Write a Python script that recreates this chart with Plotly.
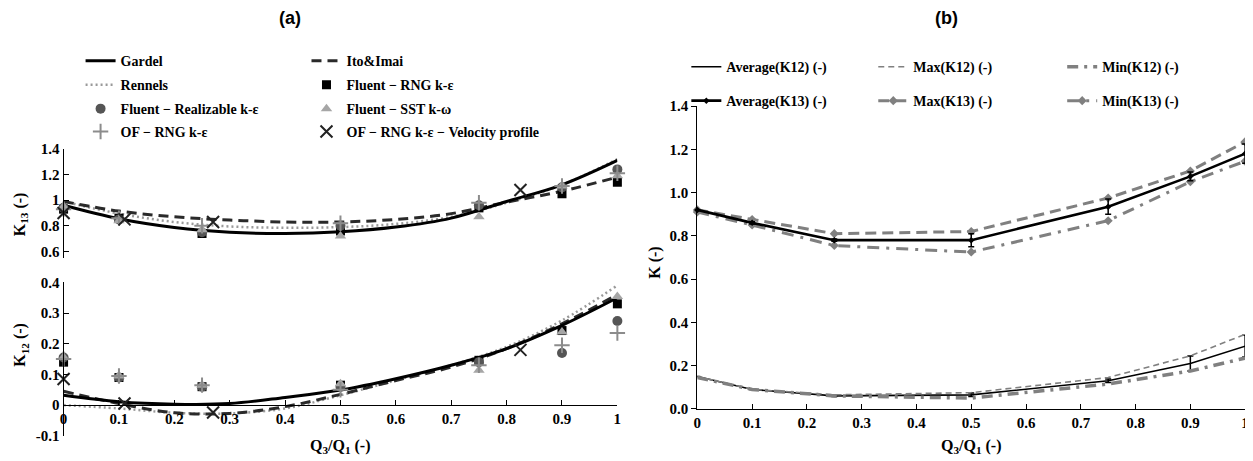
import plotly.graph_objects as go

W, H = 1253, 461

# ---------------- data: panel (a) ----------------
x_curve = [0, 0.1, 0.2, 0.3, 0.4, 0.5, 0.6, 0.7, 0.8, 0.9, 1.0]
gardel_k13 = [0.96, 0.855, 0.787, 0.75, 0.74, 0.753, 0.79, 0.86, 0.99, 1.12, 1.31]
ito_k13 = [0.99, 0.915, 0.87, 0.845, 0.83, 0.83, 0.85, 0.895, 0.985, 1.07, 1.18]
rennels_k13 = [0.99, 0.895, 0.83, 0.795, 0.785, 0.79, 0.815, 0.87, 0.98, 1.12, 1.32]
gardel_k12 = [0.032, 0.011, 0.003, 0.005, 0.025, 0.049, 0.086, 0.13, 0.184, 0.26, 0.35]
ito_k12 = [0.045, 0.005, -0.025, -0.027, -0.005, 0.035, 0.08, 0.124, 0.184, 0.265, 0.36]
rennels_k12 = [0.0, -0.011, -0.025, -0.027, -0.011, 0.032, 0.081, 0.13, 0.19, 0.276, 0.39]

x_sim = [0, 0.1, 0.25, 0.5, 0.75, 0.9, 1.0]
fl_rng_k13 = [0.93, 0.86, 0.74, 0.76, 0.94, 1.05, 1.14]
fl_real_k13 = [0.94, 0.85, 0.75, 0.80, 0.96, 1.10, 1.24]
fl_sst_k13 = [0.95, 0.84, 0.77, 0.72, 0.87, 1.11, 1.19]
of_rng_k13 = [0.93, 0.86, 0.80, 0.82, 0.98, 1.11, 1.21]
fl_rng_k12 = [0.14, 0.09, 0.06, 0.065, 0.146, 0.243, 0.33]
fl_real_k12 = [0.155, 0.09, 0.06, 0.06, 0.14, 0.17, 0.274]
fl_sst_k12 = [0.156, 0.095, 0.065, 0.07, 0.114, 0.238, 0.354]
of_rng_k12 = [0.15, 0.095, 0.065, 0.05, 0.13, 0.195, 0.235]

x_vel = [0, 0.11, 0.27, 0.825]
of_vel_k13 = [0.90, 0.85, 0.83, 1.08]
of_vel_k12 = [0.085, 0.005, -0.024, 0.18]

# ---------------- data: panel (b) ----------------
x_b = [0, 0.1, 0.25, 0.5, 0.75, 0.9, 1.0]
avg_k12 = [0.15, 0.09, 0.06, 0.065, 0.13, 0.21, 0.29]
max_k12 = [0.15, 0.09, 0.065, 0.075, 0.145, 0.245, 0.345]
min_k12 = [0.145, 0.09, 0.06, 0.05, 0.115, 0.175, 0.235]
err_k12 = [0.0, 0.0, 0.003, 0.008, 0.008, 0.035, 0.05]
avg_k13 = [0.92, 0.86, 0.78, 0.78, 0.935, 1.075, 1.18]
max_k13 = [0.92, 0.875, 0.81, 0.82, 0.975, 1.10, 1.235]
min_k13 = [0.91, 0.85, 0.755, 0.725, 0.87, 1.05, 1.145]
err_k13 = [0.0, 0.005, 0.005, 0.03, 0.035, 0.02, 0.045]

x_ticks = [0, 0.1, 0.2, 0.3, 0.4, 0.5, 0.6, 0.7, 0.8, 0.9, 1.0]
x_ticktext = ["0", "0.1", "0.2", "0.3", "0.4", "0.5", "0.6", "0.7", "0.8", "0.9", "1"]
k13_ticks = [0.6, 0.8, 1.0, 1.2, 1.4]
k13_ticktext = ["0.6", "0.8", "1", "1.2", "1.4"]
k12_ticks = [-0.1, 0, 0.1, 0.2, 0.3, 0.4]
k12_ticktext = ["-0.1", "0", "0.1", "0.2", "0.3", "0.4"]
kb_ticks = [0, 0.2, 0.4, 0.6, 0.8, 1.0, 1.2, 1.4]
kb_ticktext = ["0.0", "0.2", "0.4", "0.6", "0.8", "1.0", "1.2", "1.4"]

SERIF = "Liberation Serif"
BLACK = "#000000"
GREY = "#808080"

# map target screenshot pixels to paper fractions (compensates observed render offset/scale)
def px(x):
    return ((x - 11.4) / 0.994) / W

def py(y):
    return 1 - ((y - 14.6) / 0.969) / H

fig = go.Figure()

legend_pos = {
    "legend": (80, 60), "legend2": (306, 60),
    "legend3": (80, 84), "legend4": (306, 84),
    "legend5": (80, 108), "legend6": (306, 108),
    "legend7": (80, 131), "legend8": (306, 131),
    "legend9": (686, 66), "legend10": (873, 66), "legend11": (1062, 66),
    "legend12": (686, 100), "legend13": (873, 100), "legend14": (1062, 100),
}

def add_curve(y13, y12, name, line, leg):
    fig.add_trace(go.Scatter(x=x_curve, y=y13, mode="lines", name=name, line=dict(shape="spline", **line),
                             xaxis="x", yaxis="y", legend=leg, showlegend=True, cliponaxis=False))
    fig.add_trace(go.Scatter(x=x_curve, y=y12, mode="lines", name=name, line=dict(shape="spline", **line),
                             xaxis="x2", yaxis="y2", showlegend=False, cliponaxis=False))

add_curve(rennels_k13, rennels_k12, "Rennels", dict(color="#9a9a9a", width=2.5, dash="2px,3px"), "legend3")
add_curve(ito_k13, ito_k12, "Ito&Imai", dict(color="#2a2a2a", width=3, dash="10px,6px"), "legend2")
add_curve(gardel_k13, gardel_k12, "Gardel", dict(color=BLACK, width=3), "legend")

def add_markers(xs, y13, y12, name, marker, leg):
    fig.add_trace(go.Scatter(x=xs, y=y13, mode="markers", name=name, marker=marker,
                             xaxis="x", yaxis="y", legend=leg, showlegend=True, cliponaxis=False))
    fig.add_trace(go.Scatter(x=xs, y=y12, mode="markers", name=name, marker=marker,
                             xaxis="x2", yaxis="y2", showlegend=False, cliponaxis=False))

add_markers(x_sim, fl_rng_k13, fl_rng_k12, "Fluent − RNG k-ε",
            dict(symbol="square", size=9, color=BLACK), "legend4")
add_markers(x_sim, fl_real_k13, fl_real_k12, "Fluent − Realizable k-ε",
            dict(symbol="circle", size=10, color="#555555"), "legend5")
add_markers(x_sim, fl_sst_k13, fl_sst_k12, "Fluent − SST k-ω",
            dict(symbol="triangle-up", size=10, color="#a6a6a6"), "legend6")
add_markers(x_sim, of_rng_k13, of_rng_k12, "OF − RNG k-ε",
            dict(symbol="cross-thin", size=11, color="#8c8c8c", line=dict(width=2, color="#8c8c8c")), "legend7")
add_markers(x_vel, of_vel_k13, of_vel_k12, "OF − RNG k-ε − Velocity profile",
            dict(symbol="x-thin", size=12, color="#222222", line=dict(width=2, color="#222222")), "legend8")

# ---- panel (b) ----
fig.add_trace(go.Scatter(x=x_b, y=avg_k12, mode="lines", name="Average(K12) (-)",
                         line=dict(color=BLACK, width=1.6), cliponaxis=False,
                         error_y=dict(type="data", array=err_k12, color=BLACK, thickness=1.5, width=3),
                         xaxis="x3", yaxis="y3", legend="legend9"))
fig.add_trace(go.Scatter(x=x_b, y=max_k12, mode="lines", name="Max(K12) (-)",
                         line=dict(color=GREY, width=1.6, dash="6px,4px"), cliponaxis=False,
                         xaxis="x3", yaxis="y3", legend="legend10"))
fig.add_trace(go.Scatter(x=x_b, y=min_k12, mode="lines", name="Min(K12) (-)",
                         line=dict(color=GREY, width=3.5, dash="11px,6px,3px,6px"), cliponaxis=False,
                         xaxis="x3", yaxis="y3", legend="legend11"))
fig.add_trace(go.Scatter(x=x_b, y=max_k13, mode="lines+markers", name="Max(K13) (-)",
                         line=dict(color=GREY, width=3, dash="11px,6px"), cliponaxis=False,
                         marker=dict(symbol="diamond", size=7, color=GREY),
                         xaxis="x3", yaxis="y3", legend="legend13"))
fig.add_trace(go.Scatter(x=x_b, y=min_k13, mode="lines+markers", name="Min(K13) (-)",
                         line=dict(color=GREY, width=3, dash="12px,7px,3px,7px"), cliponaxis=False,
                         marker=dict(symbol="diamond", size=7, color=GREY),
                         xaxis="x3", yaxis="y3", legend="legend14"))
fig.add_trace(go.Scatter(x=x_b, y=avg_k13, mode="lines+markers", name="Average(K13) (-)",
                         line=dict(color=BLACK, width=2.6), cliponaxis=False,
                         marker=dict(symbol="diamond", size=5, color=BLACK),
                         error_y=dict(type="data", array=err_k13, color=BLACK, thickness=1.5, width=3),
                         xaxis="x3", yaxis="y3", legend="legend12"))

# ---------------- layout ----------------
tickfont = dict(family=SERIF, size=15, color=BLACK, weight="bold")
axis_common = dict(showgrid=False, zeroline=False, showline=True, linecolor=BLACK, linewidth=1.3,
                   tickcolor=BLACK, ticklen=5, tickwidth=1.2, tickfont=tickfont,
                   ticklabeloverflow="allow")

xa_dom = [px(63), px(617)]
xb_dom = [px(697), px(1245)]
k13_range = [0.55, 1.4]
k12_range = [-0.1, 0.4]
k13_dom = [py(257.4), py(148)]
k12_dom = [py(436), py(282)]
zero_pos = k12_dom[0] + (0 - k12_range[0]) / (k12_range[1] - k12_range[0]) * (k12_dom[1] - k12_dom[0])

layout = dict(
    width=W, height=H, margin=dict(l=0, r=0, t=0, b=0),
    paper_bgcolor="white", plot_bgcolor="rgba(0,0,0,0)",
    xaxis=dict(domain=xa_dom, range=[0, 1], visible=False, anchor="y"),
    yaxis=dict(domain=k13_dom, range=k13_range, anchor="x", ticks="inside",
               tickvals=k13_ticks, ticktext=k13_ticktext, **axis_common),
    xaxis2=dict(domain=xa_dom, range=[0, 1], anchor="free", position=zero_pos, ticks="inside",
                tickvals=x_ticks, ticktext=x_ticktext, **axis_common),
    yaxis2=dict(domain=k12_dom, range=k12_range, anchor="x2", ticks="inside",
                tickvals=k12_ticks, ticktext=k12_ticktext, **axis_common),
    xaxis3=dict(domain=xb_dom, range=[0, 1], anchor="y3", ticks="inside",
                tickvals=x_ticks, ticktext=x_ticktext, **axis_common),
    yaxis3=dict(domain=[py(409), py(105)], range=[0, 1.4], anchor="x3", ticks="outside",
                tickvals=kb_ticks, ticktext=kb_ticktext, **axis_common),
    showlegend=True,
)

legfont = dict(family=SERIF, size=14, color=BLACK, weight="bold")
for name, (lx, ly) in legend_pos.items():
    layout[name] = dict(x=px(lx), y=py(ly), xanchor="left", yanchor="middle",
                        bgcolor="rgba(0,0,0,0)", borderwidth=0, font=legfont,
                        orientation="v", itemclick=False, itemdoubleclick=False)

fig.update_layout(**layout)

def ann(text, x, y, size=16, angle=0, family=SERIF):
    fig.add_annotation(text=text, x=px(x), y=py(y), xref="paper", yref="paper", showarrow=False,
                       textangle=angle, xanchor="center", yanchor="middle",
                       font=dict(family=family, size=size, color=BLACK, weight="bold"))

ann("(a)", 290, 17, size=18, family="Liberation Sans")
ann("(b)", 946, 17, size=18, family="Liberation Sans")
ann("K<sub>13</sub> (-)", 20, 214, angle=-90)
ann("K<sub>12</sub> (-)", 20, 345, angle=-90)
ann("K (-)", 655, 262, angle=-90)
ann("Q<sub>3</sub>/Q<sub>1</sub> (-)", 340, 447)
ann("Q<sub>3</sub>/Q<sub>1</sub> (-)", 971, 447)

fig.write_html("out.html")
